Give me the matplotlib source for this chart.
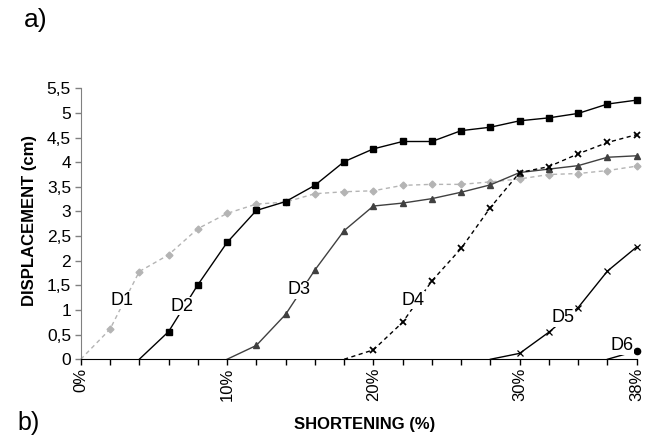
import numpy as np
import matplotlib.pyplot as plt

plt.rcParams['font.family'] = ['Liberation Sans', 'DejaVu Sans']

# shortening steps (%) and measured displacement (cm) of each marker
shortening = list(range(0, 40, 2))

d1_start, d1 = 0, [0, 0.61, 1.78, 2.12, 2.65, 2.96, 3.15, 3.19, 3.36, 3.40,
                   3.42, 3.53, 3.55, 3.55, 3.60, 3.66, 3.75, 3.77, 3.83, 3.92]
d2_start, d2 = 4, [0, 0.56, 1.51, 2.37, 3.02, 3.20, 3.53, 4.01, 4.27, 4.42,
                   4.42, 4.64, 4.71, 4.84, 4.90, 4.99, 5.18, 5.26]
d3_start, d3 = 10, [0, 0.28, 0.91, 1.81, 2.61, 3.11, 3.17, 3.26, 3.39, 3.54,
                    3.79, 3.86, 3.93, 4.10, 4.13]
d4_start, d4 = 18, [0, 0.19, 0.75, 1.59, 2.25, 3.08, 3.79, 3.91, 4.17, 4.40, 4.56]
d5_start, d5 = 28, [0, 0.12, 0.55, 1.05, 1.79, 2.28]
d6_start, d6 = 36, [0, 0.17]

yticks = np.arange(0, 5.51, 0.5)
xtick_labels = {0: '0%', 10: '10%', 20: '20%', 30: '30%', 38: '38%'}

fig = plt.figure(figsize=(6.46, 4.36), dpi=100)
ax = fig.add_axes([0.125, 0.176, 0.8606, 0.6215])


def xs(start, vals):
    i = shortening.index(start)
    return shortening[i:i + len(vals)]


ax.plot(xs(d1_start, d1), d1, color='#b4b4b4', ls=(0, (3, 2.5)), lw=1,
        marker='D', ms=3.5, markevery=range(1, len(d1)), clip_on=False)
ax.plot(xs(d2_start, d2), d2, color='black', lw=1,
        marker='s', ms=5, markevery=range(1, len(d2)), clip_on=False)
ax.plot(xs(d3_start, d3), d3, color='#404040', lw=1,
        marker='^', ms=5, markevery=range(1, len(d3)), clip_on=False)
ax.plot(xs(d4_start, d4), d4, color='black', ls=(0, (3, 2.5)), lw=1,
        marker='x', ms=4.5, mew=1.3, markevery=range(1, len(d4)), clip_on=False)
ax.plot(xs(d5_start, d5), d5, color='black', lw=1,
        marker='x', ms=4.5, mew=0.9, markevery=range(1, len(d5)), clip_on=False)
ax.plot(xs(d6_start, d6), d6, color='black', lw=1,
        marker='o', ms=4.5, markevery=[1], clip_on=False)

labels = [('D1', 2.82, 1.2), ('D2', 6.92, 1.08), ('D3', 14.92, 1.41),
          ('D4', 22.71, 1.2), ('D5', 32.97, 0.84), ('D6', 37.0, 0.27)]
for name, lx, ly in labels:
    ax.text(lx, ly, name, fontsize=13, ha='center', va='center', zorder=5,
            bbox=dict(facecolor='white', edgecolor='none', pad=0.5))

ax.set_xlim(0, 38)
ax.set_ylim(0, 5.5)
ax.set_xticks(shortening)
ax.set_xticklabels([xtick_labels.get(x, '') for x in shortening],
                   rotation=90, fontsize=12)
ax.set_yticks(yticks)
ax.set_yticklabels([('%g' % v).replace('.', ',') for v in yticks], fontsize=12.5)
ax.tick_params(axis='x', length=4, width=1, pad=2)
ax.tick_params(axis='y', length=4, width=1, color='#808080', pad=3)

for side in ('top', 'right'):
    ax.spines[side].set_visible(False)
ax.spines['left'].set_color('#808080')
ax.spines['bottom'].set_color('black')

fig.text(0.046, 0.495, 'DISPLACEMENT (cm)', rotation=90, fontsize=12,
         fontweight='bold', ha='center', va='center')
fig.text(0.565, 0.027, 'SHORTENING (%)', fontsize=12, fontweight='bold',
         ha='center', va='center')
fig.text(0.037, 0.955, 'a)', fontsize=19, ha='left', va='center')
fig.text(0.027, 0.002, 'b)', fontsize=18, ha='left', va='bottom')

fig.savefig('out.png', dpi=100)
